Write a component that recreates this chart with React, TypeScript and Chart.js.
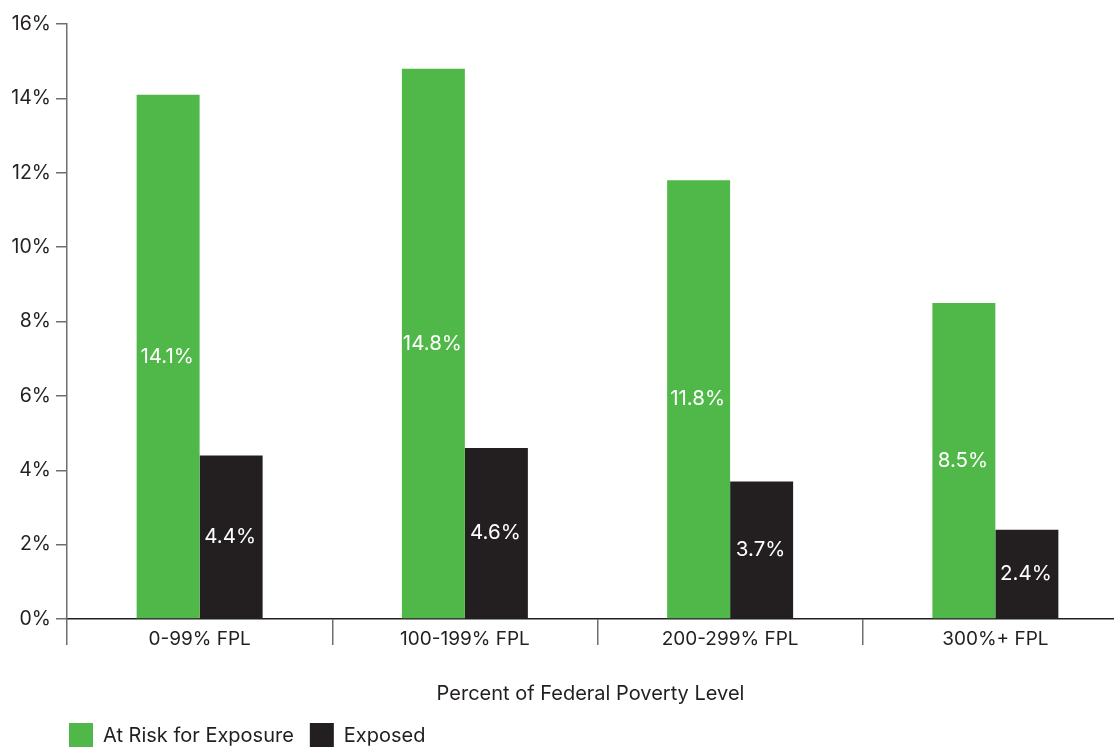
import React, { useEffect, useRef } from "react";
import { Chart, registerables } from "chart.js";

Chart.register(...registerables);

const categories = ["0-99% FPL", "100-199% FPL", "200-299% FPL", "300%+ FPL"];
const seriesNames = ["At Risk for Exposure", "Exposed"];
const atRiskValues = [14.1, 14.8, 11.8, 8.5];
const exposedValues = [4.4, 4.6, 3.7, 2.4];
const seriesColors = ["#50b848", "#231f20"];
const yMin = 0;
const yMax = 16;
const yStep = 2;
const xAxisTitle = "Percent of Federal Poverty Level";

const FONT = "Inter, Lato, 'Noto Sans', sans-serif";
const TEXT = "#231f20";
const AXIS_GRAY = "#6d6e71";
const VISIBLE_WIDTH = 1114;

const valueLabelPlugin = {
  id: "valueLabels",
  afterDatasetsDraw(chart: any) {
    const ctx = chart.ctx;
    ctx.save();
    ctx.fillStyle = "#ffffff";
    ctx.font = `20.5px ${FONT}`;
    ctx.textAlign = "center";
    ctx.textBaseline = "middle";
    chart.data.datasets.forEach((ds: any, i: number) => {
      const meta = chart.getDatasetMeta(i);
      meta.data.forEach((bar: any, j: number) => {
        const { x, y, base } = bar.getProps(["x", "y", "base"], true);
        ctx.fillText(ds.data[j].toFixed(1) + "%", x - 1, (y + base) / 2);
      });
    });
    ctx.restore();
  },
};

const titleAndLegendPlugin = {
  id: "titleAndLegend",
  afterDraw(chart: any) {
    const ctx = chart.ctx;
    const area = chart.chartArea;
    ctx.save();
    // axis title, centred on the visible part of the axis
    ctx.font = `20px ${FONT}`;
    ctx.fillStyle = TEXT;
    ctx.textAlign = "center";
    ctx.textBaseline = "middle";
    ctx.fillText(xAxisTitle, (area.left + VISIBLE_WIDTH) / 2, 694);
    // legend
    ctx.font = `20px ${FONT}`;
    ctx.textAlign = "left";
    let x = 69;
    const top = 723;
    const box = 24;
    chart.data.datasets.forEach((ds: any) => {
      ctx.fillStyle = ds.backgroundColor;
      ctx.fillRect(x, top, box, box);
      ctx.fillStyle = TEXT;
      ctx.fillText(ds.label, x + box + 10, top + box / 2 + 1);
      x += box + 10 + ctx.measureText(ds.label).width + 16;
    });
    ctx.restore();
  },
};

export default function App() {
  const ref = useRef<HTMLCanvasElement>(null);
  useEffect(() => {
    if (!ref.current) return;
    const chart = new Chart(ref.current, {
      type: "bar",
      data: {
        labels: categories,
        datasets: [
          {
            label: seriesNames[0],
            data: atRiskValues,
            backgroundColor: seriesColors[0],
            borderWidth: 0,
            barPercentage: 1,
            categoryPercentage: 0.475,
          },
          {
            label: seriesNames[1],
            data: exposedValues,
            backgroundColor: seriesColors[1],
            borderWidth: 0,
            barPercentage: 1,
            categoryPercentage: 0.475,
          },
        ],
      },
      options: {
        responsive: false,
        animation: false,
        devicePixelRatio: 1,
        layout: { padding: { top: 24, left: 0, right: 0, bottom: 0 } },
        plugins: {
          legend: { display: false },
          tooltip: { enabled: false },
        },
        scales: {
          x: {
            offset: true,
            grid: {
              offset: true,
              drawOnChartArea: false,
              drawTicks: true,
              tickLength: 26,
              color: AXIS_GRAY,
              lineWidth: 1.5,
            },
            border: { color: TEXT, width: 1.5 },
            ticks: {
              font: { family: FONT, size: 19 },
              color: TEXT,
              padding: -17,
              maxRotation: 0,
              autoSkip: false,
            },
            afterFit: (s: any) => {
              s.height = 132;
            },
          },
          y: {
            min: yMin,
            max: yMax,
            ticks: {
              stepSize: yStep,
              callback: (v: any) => v + "%",
              font: { family: FONT, size: 19.5 },
              color: TEXT,
              padding: 5,
            },
            grid: {
              drawOnChartArea: false,
              drawTicks: true,
              tickLength: 11,
              color: AXIS_GRAY,
              lineWidth: 1.5,
            },
            border: { color: AXIS_GRAY, width: 1.5 },
            afterFit: (s: any) => {
              s.width = 67;
            },
          },
        },
      },
      plugins: [valueLabelPlugin, titleAndLegendPlugin],
    });
    return () => chart.destroy();
  }, []);

  return (
    <div
      style={{
        position: "fixed",
        left: 0,
        top: 0,
        width: VISIBLE_WIDTH,
        height: 751,
        overflow: "hidden",
        background: "#ffffff",
      }}
    >
      <canvas ref={ref} width={1128} height={751} style={{ display: "block" }} />
    </div>
  );
}
